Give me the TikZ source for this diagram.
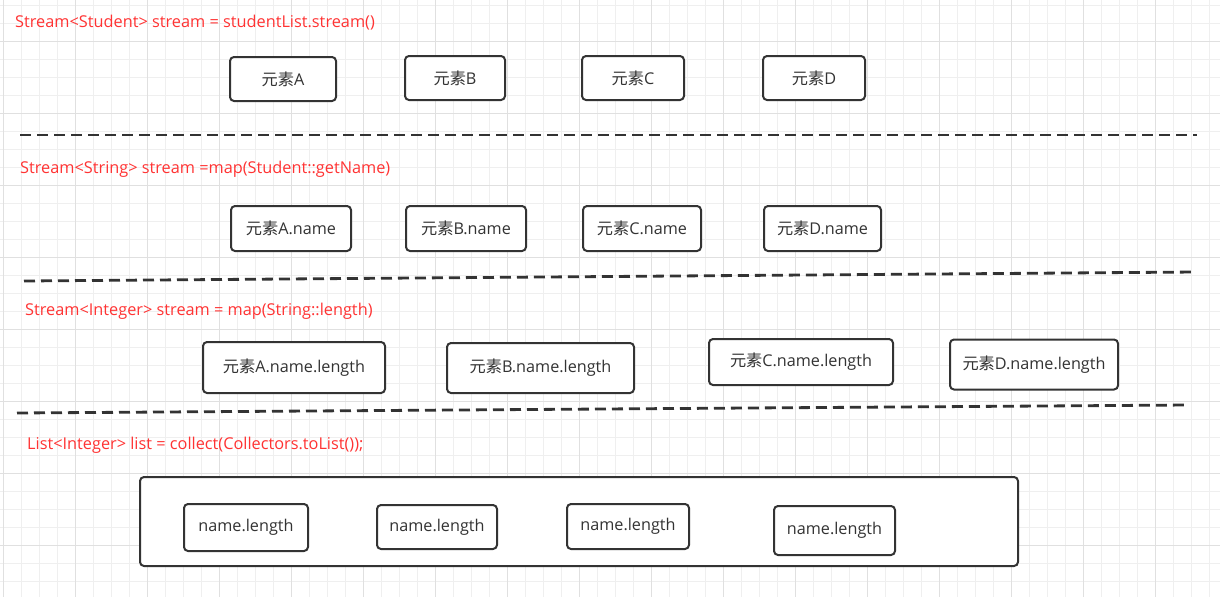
\documentclass[tikz,border=0pt]{standalone}
\usepackage{fontspec}
\setmainfont{Open Sans}
\newfontfamily\cjk{Noto Sans CJK SC}
\definecolor{gridminor}{HTML}{EFEFEF}
\definecolor{gridmajor}{HTML}{E0E0E0}
\definecolor{codered}{HTML}{FF3333}
\definecolor{boxline}{HTML}{333333}
\begin{document}
\begin{tikzpicture}[x=1pt, y=-1pt,
	elem/.style={draw=boxline, line width=2pt, rounded corners=4pt, fill=white, inner sep=0pt,
		text=boxline, font=\fontsize{16.2}{19}\selectfont},
	code/.style={anchor=west, inner sep=0pt, text=codered, font=\fontsize{16.3}{19}\selectfont},
	sep/.style={draw=boxline, line width=2.8pt, dash pattern=on 11pt off 6pt}]
	\useasboundingbox (0,0) rectangle (1220,597);
	% grid
	\fill[white] (0,0) rectangle (1220,597);
	\foreach \i in {0,...,67} \draw[gridminor, line width=1pt] (3.5+18*\i,0) -- (3.5+18*\i,597);
	\foreach \i in {0,...,33} \draw[gridminor, line width=1pt] (0,5+18*\i) -- (1220,5+18*\i);
	\foreach \i in {0,...,16} \draw[gridmajor, line width=1pt] (3.5+72*\i,0) -- (3.5+72*\i,597);
	\foreach \i in {0,...,7} \draw[gridmajor, line width=1pt] (0,41+72*\i) -- (1220,41+72*\i);

	% stream of students
	\path(15,23)    node[code](T1) {Stream<Student> stream = studentList.stream()};
	\path(283,79)   node[elem, minimum width=106pt, minimum height=44pt](A1) {{\cjk 元素}A};
	\path(455,78)   node[elem, minimum width=100pt, minimum height=44pt](B1) {{\cjk 元素}B};
	\path(633,78)   node[elem, minimum width=102pt, minimum height=44pt](C1) {{\cjk 元素}C};
	\path(814,78)   node[elem, minimum width=102pt, minimum height=44pt](D1) {{\cjk 元素}D};
	\coordinate (S1a) at (20,135);
	\coordinate (S1b) at (1197,135);
	\draw[sep] (S1a) -- (S1b);

	% map to names
	\path(20,169)   node[code](T2) {Stream<String> stream =map(Student::getName)};
	\path(291,228.5) node[elem, minimum width=120pt, minimum height=45pt](A2) {{\cjk 元素}A.name};
	\path(466,228.5) node[elem, minimum width=120pt, minimum height=45pt](B2) {{\cjk 元素}B.name};
	\path(642,228.5) node[elem, minimum width=118pt, minimum height=45pt](C2) {{\cjk 元素}C.name};
	\path(822.5,228.5) node[elem, minimum width=117pt, minimum height=45pt](D2) {{\cjk 元素}D.name};
	\coordinate (S2a) at (24,281);
	\coordinate (S2b) at (1196,272);
	\draw[sep] (S2a) -- (S2b);

	% map to lengths
	\path(25,311)   node[code](T3) {Stream<Integer> stream = map(String::length)};
	\path(294,367.5) node[elem, minimum width=182pt, minimum height=51pt](A3) {{\cjk 元素}A.name.length};
	\path(540.5,368) node[elem, minimum width=187pt, minimum height=50pt](B3) {{\cjk 元素}B.name.length};
	\path(801,362)  node[elem, minimum width=184pt, minimum height=46pt](C3) {{\cjk 元素}C.name.length};
	\path(1034,364.5) node[elem, minimum width=168pt, minimum height=50pt](D3) {{\cjk 元素}D.name.length};
	\coordinate (S3a) at (17,413);
	\coordinate (S3b) at (1188,405);
	\draw[sep] (S3a) -- (S3b);

	% collect to list
	\path(27,445)   node[code](T4) {List<Integer> list = collect(Collectors.toList());};
	\path(579,521.5) node[elem, minimum width=878pt, minimum height=89pt](L) {};
	\path(246,527.5) node[elem, minimum width=124pt, minimum height=47pt](E1) {name.length};
	\path(437,527)  node[elem, minimum width=120pt, minimum height=44pt](E2) {name.length};
	\path(628,526.5) node[elem, minimum width=122pt, minimum height=45pt](E3) {name.length};
	\path(834.5,530.5) node[elem, minimum width=121pt, minimum height=49pt](E4) {name.length};
\end{tikzpicture}
\end{document}
